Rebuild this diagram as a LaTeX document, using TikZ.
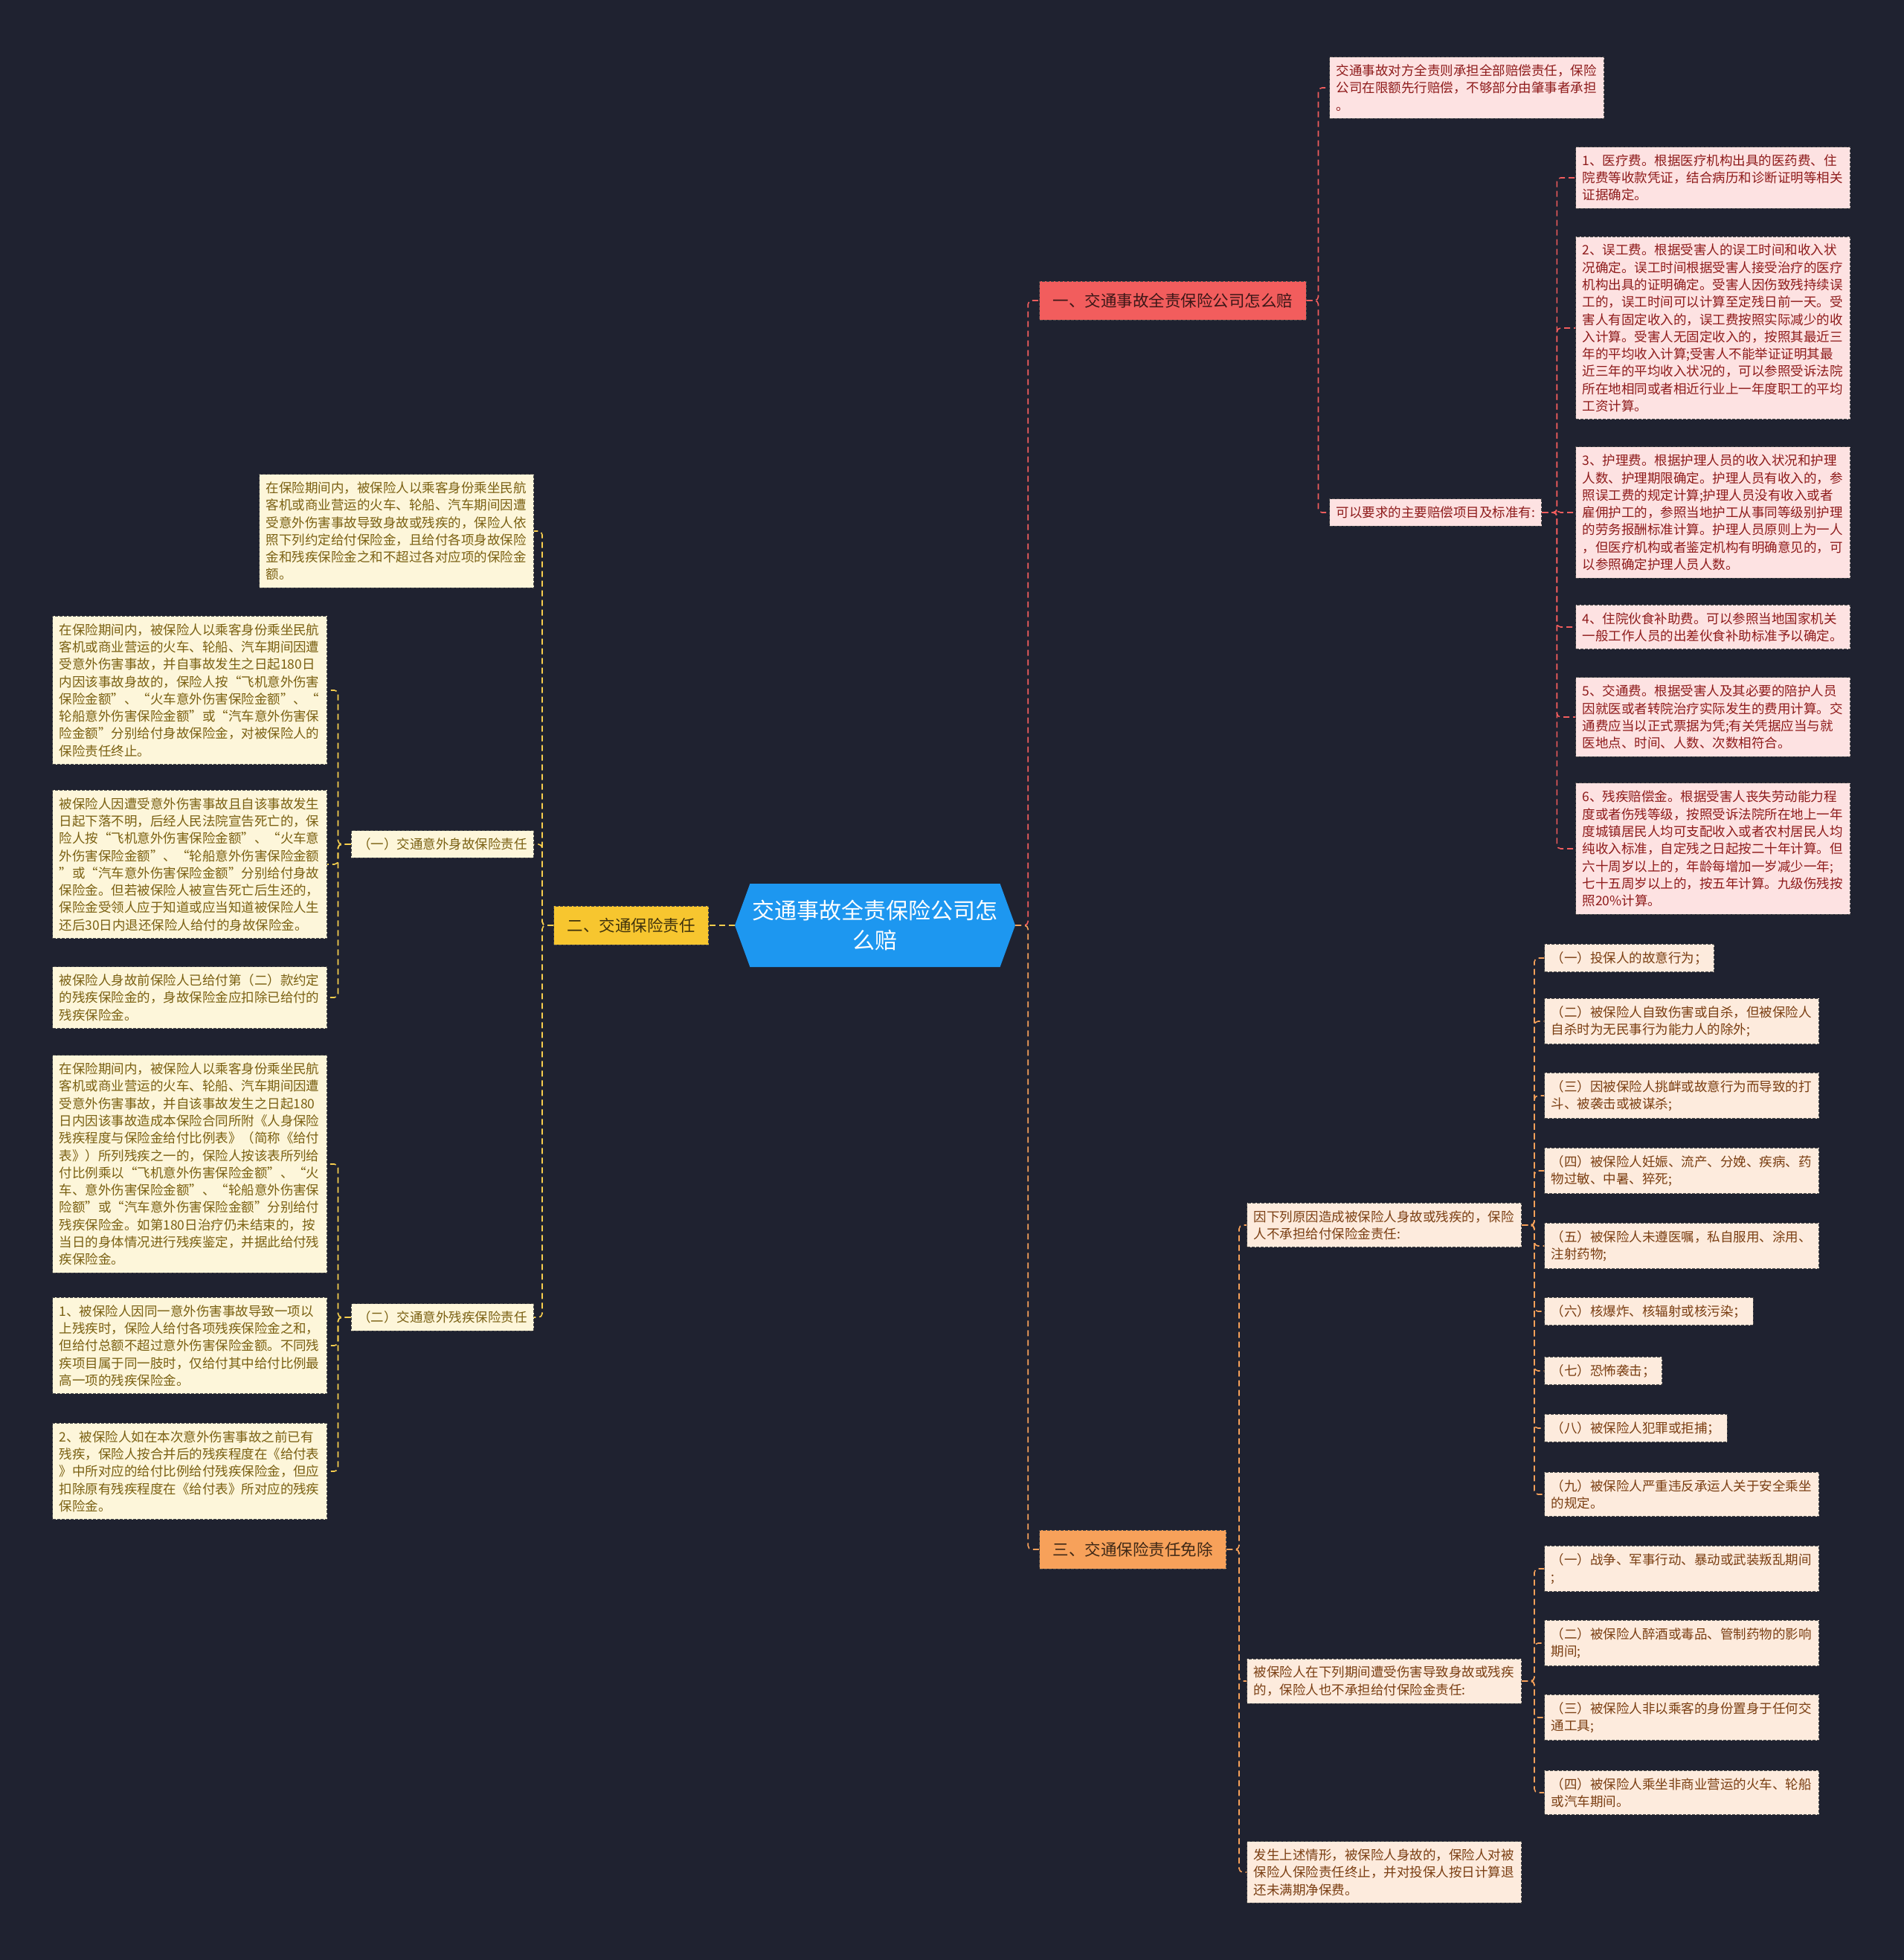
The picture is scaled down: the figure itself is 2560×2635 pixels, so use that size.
\documentclass[tikz,border=0pt]{standalone}
\usepackage{fontspec}
\setmainfont{Noto Sans CJK SC}
\usepackage{xcolor}
\usepackage{tikz}
\usetikzlibrary{shapes.symbols,positioning}
\definecolor{bgc}{HTML}{1F2230}
\definecolor{hubc}{HTML}{1D97F0}
\definecolor{redc}{HTML}{F25D5D}
\definecolor{yelc}{HTML}{F7C62F}
\definecolor{orgc}{HTML}{F7A15A}
\definecolor{redfill}{HTML}{FDE2E2}
\definecolor{yelfill}{HTML}{FDF6DA}
\definecolor{orgfill}{HTML}{FDEBDD}
\definecolor{redtxt}{HTML}{8E1B1B}
\definecolor{yeltxt}{HTML}{7A6012}
\definecolor{orgtxt}{HTML}{7A3E12}
\definecolor{edgec}{HTML}{4A4A4A}

\begin{document}
\begin{tikzpicture}[x=1pt,y=-1pt,
  hub/.style={signal,signal to=west and east,signal pointer angle=140,fill=hubc,text=white,align=center,
    font=\fontsize{30pt}{40pt}\selectfont,minimum width=377pt,minimum height=112pt,inner sep=0pt},
  topic/.style={draw=edgec,dash pattern=on 4pt off 2pt,line width=1pt,inner xsep=18pt,minimum height=52pt,
    font=\fontsize{21.5pt}{26pt}\selectfont},
  leaf/.style={draw=edgec,dash pattern=on 4pt off 2pt,line width=1pt,inner xsep=9pt,inner ysep=10pt,align=left,
    font=\fontsize{17.5pt}{23.3pt}\selectfont},
  wide/.style={text width=351pt},
  rtopic/.style={topic,fill=redc,text=black!75!redc},
  ytopic/.style={topic,fill=yelc,text=black!75!yelc},
  otopic/.style={topic,fill=orgc,text=black!75!orgc},
  rleaf/.style={leaf,fill=redfill,text=redtxt},
  yleaf/.style={leaf,fill=yelfill,text=yeltxt},
  oleaf/.style={leaf,fill=orgfill,text=orgtxt},
  link/.style={dash pattern=on 8pt off 5pt,line width=1.6pt,rounded corners=5pt},
  rln/.style={link,draw=redc},
  yln/.style={link,draw=yelc!85!white},
  oln/.style={link,draw=orgc}]
\fill[bgc] (0,0) rectangle (2560,2635);
\node[hub] (hub) at (1176.5,1244) {交通事故全责保险公司怎\\么赔};
\node[rtopic,anchor=west] (t1) at (1397,404) {一、交通事故全责保险公司怎么赔};
\node[ytopic,anchor=east] (t2) at (953,1244) {二、交通保险责任};
\node[otopic,anchor=west] (t3) at (1397,2083) {三、交通保险责任免除};

\node[rleaf,wide,anchor=west] (r0) at (1787,118) {交通事故对方全责则承担全部赔偿责任，保险\\公司在限额先行赔偿，不够部分由肇事者承担\\。};
\node[rleaf,anchor=west] (rq) at (1787,689) {可以要求的主要赔偿项目及标准有:};
\node[rleaf,wide,anchor=west] (r1) at (2118,239) {1、医疗费。根据医疗机构出具的医药费、住\\院费等收款凭证，结合病历和诊断证明等相关\\证据确定。};
\node[rleaf,wide,anchor=west] (r2) at (2118,441) {2、误工费。根据受害人的误工时间和收入状\\况确定。误工时间根据受害人接受治疗的医疗\\机构出具的证明确定。受害人因伤致残持续误\\工的，误工时间可以计算至定残日前一天。受\\害人有固定收入的，误工费按照实际减少的收\\入计算。受害人无固定收入的，按照其最近三\\年的平均收入计算;受害人不能举证证明其最\\近三年的平均收入状况的，可以参照受诉法院\\所在地相同或者相近行业上一年度职工的平均\\工资计算。};
\node[rleaf,wide,anchor=west] (r3) at (2118,689) {3、护理费。根据护理人员的收入状况和护理\\人数、护理期限确定。护理人员有收入的，参\\照误工费的规定计算;护理人员没有收入或者\\雇佣护工的，参照当地护工从事同等级别护理\\的劳务报酬标准计算。护理人员原则上为一人\\，但医疗机构或者鉴定机构有明确意见的，可\\以参照确定护理人员人数。};
\node[rleaf,wide,anchor=west] (r4) at (2118,843) {4、住院伙食补助费。可以参照当地国家机关\\一般工作人员的出差伙食补助标准予以确定。};
\node[rleaf,wide,anchor=west] (r5) at (2118,964) {5、交通费。根据受害人及其必要的陪护人员\\因就医或者转院治疗实际发生的费用计算。交\\通费应当以正式票据为凭;有关凭据应当与就\\医地点、时间、人数、次数相符合。};
\node[rleaf,wide,anchor=west] (r6) at (2118,1141) {6、残疾赔偿金。根据受害人丧失劳动能力程\\度或者伤残等级，按照受诉法院所在地上一年\\度城镇居民人均可支配收入或者农村居民人均\\纯收入标准，自定残之日起按二十年计算。但\\六十周岁以上的，年龄每增加一岁减少一年;\\七十五周岁以上的，按五年计算。九级伤残按\\照20\%计算。};

\node[yleaf,wide,anchor=east] (y0) at (718,714) {在保险期间内，被保险人以乘客身份乘坐民航\\客机或商业营运的火车、轮船、汽车期间因遭\\受意外伤害事故导致身故或残疾的，保险人依\\照下列约定给付保险金，且给付各项身故保险\\金和残疾保险金之和不超过各对应项的保险金\\额。};
\node[yleaf,anchor=east] (ya) at (718,1135) {（一）交通意外身故保险责任};
\node[yleaf,anchor=east] (yb) at (718,1771) {（二）交通意外残疾保险责任};
\node[yleaf,wide,anchor=east] (ya1) at (440,928) {在保险期间内，被保险人以乘客身份乘坐民航\\客机或商业营运的火车、轮船、汽车期间因遭\\受意外伤害事故，并自事故发生之日起180日\\内因该事故身故的，保险人按“飞机意外伤害\\保险金额”、“火车意外伤害保险金额”、“\\轮船意外伤害保险金额”或“汽车意外伤害保\\险金额”分别给付身故保险金，对被保险人的\\保险责任终止。};
\node[yleaf,wide,anchor=east] (ya2) at (440,1162) {被保险人因遭受意外伤害事故且自该事故发生\\日起下落不明，后经人民法院宣告死亡的，保\\险人按“飞机意外伤害保险金额”、“火车意\\外伤害保险金额”、“轮船意外伤害保险金额\\”或“汽车意外伤害保险金额”分别给付身故\\保险金。但若被保险人被宣告死亡后生还的，\\保险金受领人应于知道或应当知道被保险人生\\还后30日内退还保险人给付的身故保险金。};
\node[yleaf,wide,anchor=east] (ya3) at (440,1341) {被保险人身故前保险人已给付第（二）款约定\\的残疾保险金的，身故保险金应扣除已给付的\\残疾保险金。};
\node[yleaf,wide,anchor=east] (yb1) at (440,1565) {在保险期间内，被保险人以乘客身份乘坐民航\\客机或商业营运的火车、轮船、汽车期间因遭\\受意外伤害事故，并自该事故发生之日起180\\日内因该事故造成本保险合同所附《人身保险\\残疾程度与保险金给付比例表》（简称《给付\\表》）所列残疾之一的，保险人按该表所列给\\付比例乘以“飞机意外伤害保险金额”、“火\\车、意外伤害保险金额”、“轮船意外伤害保\\险额”或“汽车意外伤害保险金额”分别给付\\残疾保险金。如第180日治疗仍未结束的，按\\当日的身体情况进行残疾鉴定，并据此给付残\\疾保险金。};
\node[yleaf,wide,anchor=east] (yb2) at (440,1809) {1、被保险人因同一意外伤害事故导致一项以\\上残疾时，保险人给付各项残疾保险金之和，\\但给付总额不超过意外伤害保险金额。不同残\\疾项目属于同一肢时，仅给付其中给付比例最\\高一项的残疾保险金。};
\node[yleaf,wide,anchor=east] (yb3) at (440,1978) {2、被保险人如在本次意外伤害事故之前已有\\残疾，保险人按合并后的残疾程度在《给付表\\》中所对应的给付比例给付残疾保险金，但应\\扣除原有残疾程度在《给付表》所对应的残疾\\保险金。};

\node[oleaf,wide,anchor=west] (o1) at (1676,1647) {因下列原因造成被保险人身故或残疾的，保险\\人不承担给付保险金责任:};
\node[oleaf,wide,anchor=west] (o2) at (1676,2260) {被保险人在下列期间遭受伤害导致身故或残疾\\的，保险人也不承担给付保险金责任:};
\node[oleaf,wide,anchor=west] (o3) at (1676,2517) {发生上述情形，被保险人身故的，保险人对被\\保险人保险责任终止，并对投保人按日计算退\\还未满期净保费。};
\node[oleaf,anchor=west] (o11) at (2076,1288) {（一）投保人的故意行为；};
\node[oleaf,wide,anchor=west] (o12) at (2076,1373) {（二）被保险人自致伤害或自杀，但被保险人\\自杀时为无民事行为能力人的除外;};
\node[oleaf,wide,anchor=west] (o13) at (2076,1473) {（三）因被保险人挑衅或故意行为而导致的打\\斗、被袭击或被谋杀;};
\node[oleaf,wide,anchor=west] (o14) at (2076,1574) {（四）被保险人妊娠、流产、分娩、疾病、药\\物过敏、中暑、猝死;};
\node[oleaf,wide,anchor=west] (o15) at (2076,1675) {（五）被保险人未遵医嘱，私自服用、涂用、\\注射药物;};
\node[oleaf,anchor=west] (o16) at (2076,1763) {（六）核爆炸、核辐射或核污染；};
\node[oleaf,anchor=west] (o17) at (2076,1843) {（七）恐怖袭击；};
\node[oleaf,anchor=west] (o18) at (2076,1920) {（八）被保险人犯罪或拒捕；};
\node[oleaf,wide,anchor=west] (o19) at (2076,2009) {（九）被保险人严重违反承运人关于安全乘坐\\的规定。};
\node[oleaf,wide,anchor=west] (o21) at (2076,2109) {（一）战争、军事行动、暴动或武装叛乱期间\\;};
\node[oleaf,wide,anchor=west] (o22) at (2076,2209) {（二）被保险人醉酒或毒品、管制药物的影响\\期间;};
\node[oleaf,wide,anchor=west] (o23) at (2076,2309) {（三）被保险人非以乘客的身份置身于任何交\\通工具;};
\node[oleaf,wide,anchor=west] (o24) at (2076,2410) {（四）被保险人乘坐非商业营运的火车、轮船\\或汽车期间。};

\draw[rln] (hub.east) -- ++(17,0) |- (t1.west); \draw[oln] (hub.east) -- ++(17,0) |- (t3.west);
\draw[yln] (hub.west) -- (t2.east);
\draw[rln] (t1.east) -- ++(16,0) |- (r0.west); \draw[rln] (t1.east) -- ++(16,0) |- (rq.west);
\draw[rln] (rq.east) -- ++(20,0) |- (r1.west); \draw[rln] (rq.east) -- ++(20,0) |- (r2.west);
\draw[rln] (rq.east) -- ++(20,0) |- (r3.west); \draw[rln] (rq.east) -- ++(20,0) |- (r4.west);
\draw[rln] (rq.east) -- ++(20,0) |- (r5.west); \draw[rln] (rq.east) -- ++(20,0) |- (r6.west);
\draw[yln] (t2.west) -- ++(-15,0) |- (y0.east); \draw[yln] (t2.west) -- ++(-15,0) |- (ya.east);
\draw[yln] (t2.west) -- ++(-15,0) |- (yb.east);
\draw[yln] (ya.west) -- ++(-17,0) |- (ya1.east); \draw[yln] (ya.west) -- ++(-17,0) |- (ya2.east);
\draw[yln] (ya.west) -- ++(-17,0) |- (ya3.east);
\draw[yln] (yb.west) -- ++(-17,0) |- (yb1.east); \draw[yln] (yb.west) -- ++(-17,0) |- (yb2.east);
\draw[yln] (yb.west) -- ++(-17,0) |- (yb3.east);
\draw[oln] (t3.east) -- ++(17,0) |- (o1.west); \draw[oln] (t3.east) -- ++(17,0) |- (o2.west);
\draw[oln] (t3.east) -- ++(17,0) |- (o3.west);
\draw[oln] (o1.east) -- ++(17,0) |- (o11.west); \draw[oln] (o1.east) -- ++(17,0) |- (o12.west);
\draw[oln] (o1.east) -- ++(17,0) |- (o13.west); \draw[oln] (o1.east) -- ++(17,0) |- (o14.west);
\draw[oln] (o1.east) -- ++(17,0) |- (o15.west); \draw[oln] (o1.east) -- ++(17,0) |- (o16.west);
\draw[oln] (o1.east) -- ++(17,0) |- (o17.west); \draw[oln] (o1.east) -- ++(17,0) |- (o18.west);
\draw[oln] (o1.east) -- ++(17,0) |- (o19.west);
\draw[oln] (o2.east) -- ++(17,0) |- (o21.west); \draw[oln] (o2.east) -- ++(17,0) |- (o22.west);
\draw[oln] (o2.east) -- ++(17,0) |- (o23.west); \draw[oln] (o2.east) -- ++(17,0) |- (o24.west);
\end{tikzpicture}
\end{document}
